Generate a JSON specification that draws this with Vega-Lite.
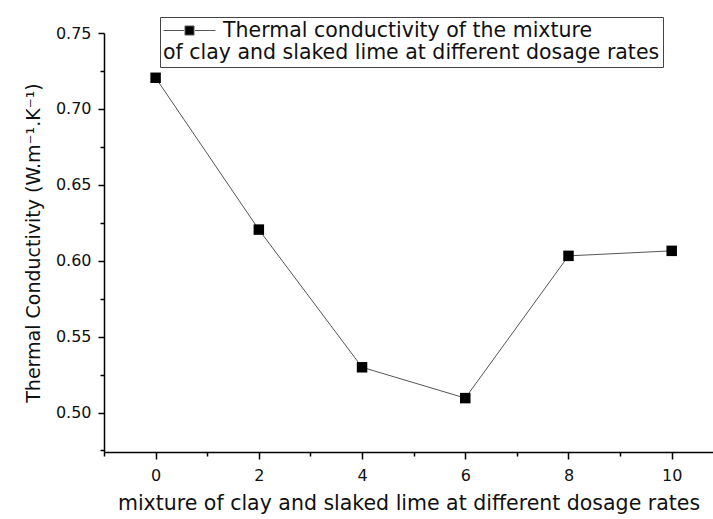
{
  "$schema": "https://vega.github.io/schema/vega-lite/v6.json",
  "width": 609,
  "height": 419,
  "autosize": {"type": "none"},
  "padding": {"left": 104, "top": 33, "right": 0, "bottom": 67},
  "background": "white",
  "config": {
    "view": {"stroke": null},
    "font": "DejaVu Sans",
    "axis": {"grid": false, "domainColor": "black", "tickColor": "black", "labelColor": "#111", "titleColor": "#111", "titleFontWeight": "normal", "domainWidth": 1.5, "tickWidth": 1.5}
  },
  "data": {
    "values": [
      {"dosage": 0, "k": 0.7205, "series": "Thermal conductivity of the mixture"},
      {"dosage": 2, "k": 0.6205, "series": "Thermal conductivity of the mixture"},
      {"dosage": 4, "k": 0.5298, "series": "Thermal conductivity of the mixture"},
      {"dosage": 6, "k": 0.5095, "series": "Thermal conductivity of the mixture"},
      {"dosage": 8, "k": 0.6032, "series": "Thermal conductivity of the mixture"},
      {"dosage": 10, "k": 0.6065, "series": "Thermal conductivity of the mixture"}
    ]
  },
  "layer": [
    {
      "mark": {"type": "line", "color": "#555", "strokeWidth": 1},
      "encoding": {
        "x": {"field": "dosage", "type": "quantitative", "scale": {"domain": [-1, 10.8], "nice": false, "zero": false},
          "axis": {"orient": "bottom", "values": [0, 2, 4, 6, 8, 10], "title": "mixture of clay and slaked lime at different dosage rates", "labelFontSize": 16, "titleFontSize": 20.5, "tickSize": 7, "labelPadding": 8, "titlePadding": 10, "labelFlush": false}},
        "y": {"field": "k", "type": "quantitative", "scale": {"domain": [0.474, 0.75], "nice": false, "zero": false},
          "axis": {"orient": "left", "values": [0.5, 0.55, 0.6, 0.65, 0.7, 0.75], "format": ".2f", "title": "Thermal Conductivity (W.m⁻¹.K⁻¹)", "labelFontSize": 16, "titleFontSize": 19, "tickSize": 6, "labelPadding": 7, "titlePadding": 12, "labelFlush": false}}
      }
    },
    {
      "mark": {"type": "point", "shape": "square", "filled": true, "size": 110, "opacity": 1},
      "encoding": {
        "x": {"field": "dosage", "type": "quantitative", "scale": {"domain": [-1, 10.8], "nice": false, "zero": false},
          "axis": {"orient": "bottom", "values": [-1, 1, 3, 5, 7, 9], "labels": false, "domain": false, "tickSize": 4, "title": null}},
        "y": {"field": "k", "type": "quantitative", "scale": {"domain": [0.474, 0.75], "nice": false, "zero": false},
          "axis": {"orient": "left", "values": [0.475, 0.525, 0.575, 0.625, 0.675, 0.725], "labels": false, "domain": false, "tickSize": 4, "title": null}},
        "color": {"field": "series", "type": "nominal", "scale": {"range": ["black"]},
          "legend": {
            "orient": "none", "legendX": 56, "legendY": -16,
            "title": "of clay and slaked lime at different dosage rates",
            "titleOrient": "bottom", "titleFontSize": 20.5, "titleFontWeight": "normal", "titleColor": "#111", "titleLimit": 0, "titlePadding": 2,
            "labelFontSize": 20.5, "labelColor": "#111", "labelLimit": 0, "labelOffset": 23,
            "symbolType": "M-2.6,0H-0.55M0.55,0H2.6M-0.45,-0.45H0.45V0.45H-0.45Z",
            "symbolSize": 400, "symbolOffset": 16, "symbolStrokeColor": "#555", "symbolStrokeWidth": 1, "symbolFillColor": "black",
            "strokeColor": "#444", "fillColor": "white", "padding": 3
          }}
      }
    }
  ],
  "resolve": {"axis": {"x": "independent", "y": "independent"}}
}
